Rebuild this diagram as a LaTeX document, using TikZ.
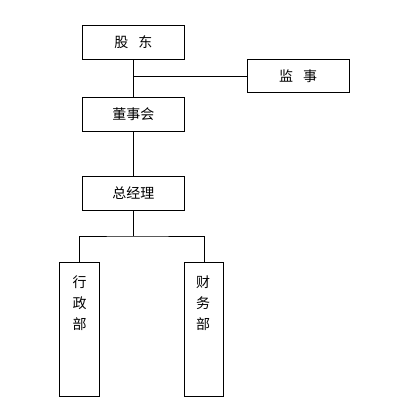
\documentclass[tikz,border=0pt]{standalone}
\usepackage{fontspec}
\newfontfamily\cjk{Noto Sans CJK SC}
\begin{document}
\begin{tikzpicture}[x=1bp,y=-1bp,
  box/.style={draw,line width=0.9bp,inner sep=0pt,minimum width=102bp,minimum height=33.5bp,font=\cjk\fontsize{14bp}{20.7bp}\selectfont},
  tallbox/.style={draw,line width=0.9bp,inner sep=0pt,minimum width=39.5bp,minimum height=133.7bp},
  vtext/.style={inner sep=0pt,align=center,font=\cjk\fontsize{14bp}{20.7bp}\selectfont},
  conn/.style={line width=0.9bp}]
\useasboundingbox (0,0) rectangle (410,412);
\node[box] (gd) at (133.3,42.5) {股\hspace{10bp}东};
\node[box] (js) at (298.2,75.7) {监\hspace{10bp}事};
\node[box] (dsh) at (133.3,114.2) {董事会};
\node[box] (zjl) at (133.3,193.3) {总经理};
\node[tallbox] (xz) at (79.5,329.2) {};
\node[tallbox] (cw) at (204,329.2) {};
\node[vtext] (xzt) at (79.5,303) {行\\政\\部};
\node[vtext] (cwt) at (203,303) {财\\务\\部};
\coordinate (j1) at (133.3,76.3);
\coordinate (j2) at (133.3,236);
\draw[conn] (gd.south) -- (dsh.north);
\draw[conn] (j1) -- (j1 -| js.west);
\draw[conn] (dsh.south) -- (zjl.north);
\draw[conn] (zjl.south) -- (j2);
\draw[conn] (xz.north) |- (j2) -| (cw.north);
\end{tikzpicture}
\end{document}
